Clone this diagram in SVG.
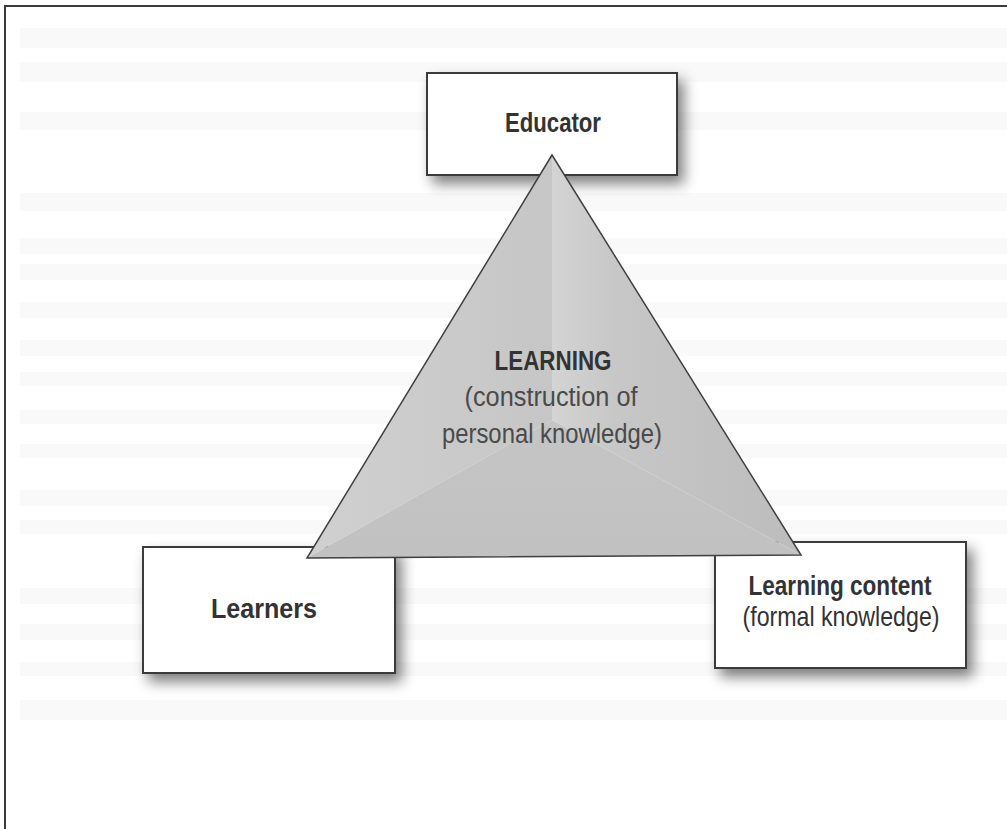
<svg xmlns="http://www.w3.org/2000/svg" width="1007" height="829" viewBox="0 0 1007 829">
  <style>
    .box { fill: #ffffff; stroke: #3a3a3a; stroke-width: 2; }
    .lbl { font-family: "Liberation Sans Narrow", "Liberation Sans", Arial, sans-serif; fill: #333333; text-anchor: middle; }
    .b { font-weight: bold; }
    .sub { fill: #4a4a4a; }
    .band { fill: #eeeef2; opacity: 0.35; }
  </style>
  <defs>
    <filter id="shadow" x="-20%" y="-25%" width="150%" height="170%">
      <feGaussianBlur in="SourceAlpha" stdDeviation="7"/>
      <feOffset dx="6" dy="8" result="blur"/>
      <feComponentTransfer><feFuncA type="linear" slope="0.5"/></feComponentTransfer>
      <feMerge><feMergeNode/><feMergeNode in="SourceGraphic"/></feMerge>
    </filter>
    <linearGradient id="rightFace" x1="552" y1="0" x2="801" y2="0" gradientUnits="userSpaceOnUse">
      <stop offset="0" stop-color="#d4d4d4"/>
      <stop offset="0.25" stop-color="#c7c7c7"/>
      <stop offset="1" stop-color="#bcbcbc"/>
    </linearGradient>
    <linearGradient id="leftFace" x1="307" y1="0" x2="552" y2="0" gradientUnits="userSpaceOnUse">
      <stop offset="0" stop-color="#d0d0d0"/>
      <stop offset="1" stop-color="#c6c6c6"/>
    </linearGradient>
    <linearGradient id="bottomFace" x1="0" y1="420" x2="0" y2="558" gradientUnits="userSpaceOnUse">
      <stop offset="0" stop-color="#c5c5c5"/>
      <stop offset="1" stop-color="#c1c1c1"/>
    </linearGradient>
  </defs>
  <rect width="1007" height="829" fill="#ffffff"/>
  <g id="paper">
    <rect class="band" x="20" y="28" width="987" height="20"/>
    <rect class="band" x="20" y="62" width="987" height="20"/>
    <rect class="band" x="20" y="112" width="987" height="18"/>
    <rect class="band" x="20" y="193" width="987" height="18"/>
    <rect class="band" x="20" y="238" width="987" height="16"/>
    <rect class="band" x="20" y="264" width="987" height="16"/>
    <rect class="band" x="20" y="302" width="987" height="16"/>
    <rect class="band" x="20" y="340" width="987" height="16"/>
    <rect class="band" x="20" y="372" width="987" height="14"/>
    <rect class="band" x="20" y="410" width="987" height="14"/>
    <rect class="band" x="20" y="444" width="987" height="14"/>
    <rect class="band" x="20" y="490" width="987" height="16"/>
    <rect class="band" x="20" y="520" width="987" height="14"/>
    <rect class="band" x="20" y="588" width="987" height="16"/>
    <rect class="band" x="20" y="624" width="987" height="16"/>
    <rect class="band" x="20" y="662" width="987" height="14"/>
    <rect class="band" x="20" y="700" width="987" height="20"/>
  </g>
  <path d="M5,829 V6 H1007" fill="none" stroke="#3a3a3a" stroke-width="2"/>

  <g id="connectors"></g>

  <g id="educator">
    <rect class="box" x="427" y="73" width="250" height="102" filter="url(#shadow)"/>
    <text class="lbl b" x="553" y="132" font-size="28" textLength="96" lengthAdjust="spacingAndGlyphs">Educator</text>
  </g>

  <g id="learners">
    <rect class="box" x="143" y="547" width="252" height="126" filter="url(#shadow)"/>
    <text class="lbl b" x="264" y="618" font-size="28" textLength="106" lengthAdjust="spacingAndGlyphs">Learners</text>
  </g>

  <g id="learning-content">
    <rect class="box" x="715" y="542" width="251" height="126" filter="url(#shadow)"/>
    <text class="lbl b" x="840" y="595" font-size="28" textLength="183" lengthAdjust="spacingAndGlyphs">Learning content</text>
    <text class="lbl" x="841" y="626" font-size="28" textLength="197" lengthAdjust="spacingAndGlyphs">(formal knowledge)</text>
  </g>

  <g id="learning">
    <polygon points="552,155 307,558 552,420" fill="url(#leftFace)"/>
    <polygon points="552,155 801,555 552,420" fill="url(#rightFace)"/>
    <polygon points="307,558 801,555 552,420" fill="url(#bottomFace)"/>
    <polygon points="552,155 307,558 801,555" fill="none" stroke="#3f3f3f" stroke-width="1.5" stroke-linejoin="miter"/>
    <text class="lbl b" x="553" y="370" font-size="27" textLength="117" lengthAdjust="spacingAndGlyphs">LEARNING</text>
    <text class="lbl sub" x="551" y="406" font-size="27" textLength="173" lengthAdjust="spacingAndGlyphs">(construction of</text>
    <text class="lbl sub" x="552" y="443" font-size="27" textLength="220" lengthAdjust="spacingAndGlyphs">personal knowledge)</text>
  </g>
</svg>
